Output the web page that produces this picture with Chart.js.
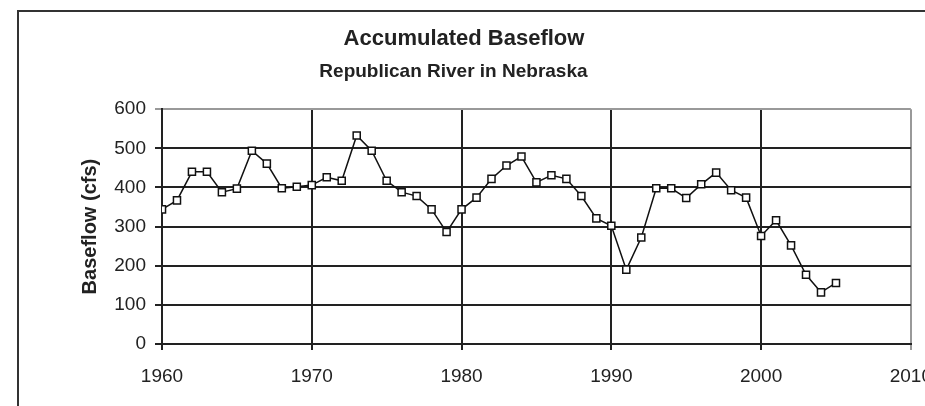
<!DOCTYPE html>
<html>
<head>
<meta charset="utf-8">
<script src="https://cdn.jsdelivr.net/npm/chart.js@4/dist/chart.umd.min.js"></script>
<style>
  html, body { margin: 0; padding: 0; background: #fff; overflow: hidden; }
  body { width: 925px; height: 406px; position: relative; }
  #frame { position: absolute; left: 17px; top: 10px; width: 1000px; height: 1000px; border: 2px solid #333; }
  #wrap { position: absolute; left: 0; top: 0; width: 947px; height: 406px; }
</style>
</head>
<body>
<div id="frame"></div>
<div id="wrap"><canvas id="baseflowChart"></canvas></div>
<script>
// data
const years = [1960, 1961, 1962, 1963, 1964, 1965, 1966, 1967, 1968, 1969,
               1970, 1971, 1972, 1973, 1974, 1975, 1976, 1977, 1978, 1979,
               1980, 1981, 1982, 1983, 1984, 1985, 1986, 1987, 1988, 1989,
               1990, 1991, 1992, 1993, 1994, 1995, 1996, 1997, 1998, 1999,
               2000, 2001, 2002, 2003, 2004, 2005];
const baseflow = [344, 367, 440, 440, 388, 397, 494, 461, 398, 402,
                  406, 426, 417, 533, 494, 417, 388, 378, 344, 286,
                  344, 374, 422, 456, 479, 413, 431, 422, 378, 321,
                  302, 190, 272, 398, 398, 373, 408, 438, 393, 374,
                  276, 316, 252, 177, 132, 156];
const xTicks = [1960, 1970, 1980, 1990, 2000, 2010];
const yTicks = [0, 100, 200, 300, 400, 500, 600];

const fontFamily = "'Liberation Sans', Arial, sans-serif";
const ink = '#222';

document.addEventListener("DOMContentLoaded", function () {
    const ctx = document.getElementById('baseflowChart').getContext('2d');

    new Chart(ctx, {
        type: 'line',
        data: {
            datasets: [{
                label: 'Baseflow',
                data: years.map((yr, i) => ({ x: yr, y: baseflow[i] })),
                borderColor: '#111',
                borderWidth: 1.5,
                pointStyle: 'rect',
                pointRadius: 5,
                pointBackgroundColor: '#fff',
                pointBorderColor: '#111',
                pointBorderWidth: 1.5,
                tension: 0
            }]
        },
        options: {
            responsive: true,
            maintainAspectRatio: false,
            animation: false,
            // left padding kept small so the titles centre on the whole picture
            layout: { padding: { left: 13, right: 32, top: 0, bottom: 0 } },
            plugins: {
                legend: { display: false },
                tooltip: { enabled: false },
                title: {
                    display: true,
                    text: 'Accumulated Baseflow',
                    color: ink,
                    font: { family: fontFamily, size: 22, weight: 'bold' },
                    padding: { top: 26, bottom: 0 }
                },
                subtitle: {
                    display: true,
                    // trailing spaces nudge the centred subtitle a little left, as in the original
                    text: 'Republican River in Nebraska    ',
                    color: ink,
                    font: { family: fontFamily, size: 19, weight: 'bold' },
                    padding: { top: 8, bottom: 26 }
                }
            },
            scales: {
                x: {
                    type: 'linear',
                    min: xTicks[0],
                    max: xTicks[xTicks.length - 1],
                    afterBuildTicks: (scale) => { scale.ticks = xTicks.map(v => ({ value: v })); },
                    afterFit: (scale) => { scale.height = 62; },
                    ticks: {
                        color: ink,
                        font: { family: fontFamily, size: 19 },
                        padding: 15,
                        maxRotation: 0,
                        callback: (v) => String(v)
                    },
                    grid: {
                        color: (c) => (c.tick && c.tick.value === 2010) ? '#999' : '#222',
                        lineWidth: 2,
                        tickLength: 6
                    },
                    border: { color: '#222', width: 2 }
                },
                y: {
                    min: yTicks[0],
                    max: yTicks[yTicks.length - 1],
                    afterBuildTicks: (scale) => { scale.ticks = yTicks.map(v => ({ value: v })); },
                    afterFit: (scale) => { scale.width = 149; },
                    title: {
                        display: true,
                        text: 'Baseflow (cfs)',
                        color: ink,
                        font: { family: fontFamily, size: 20, weight: 'bold' },
                        padding: { top: 65, bottom: 0 }
                    },
                    ticks: {
                        color: ink,
                        font: { family: fontFamily, size: 19 },
                        padding: 9
                    },
                    grid: {
                        color: (c) => (c.tick && c.tick.value === 600) ? '#999' : '#222',
                        lineWidth: 2,
                        tickLength: 7
                    },
                    border: { color: '#222', width: 2 }
                }
            }
        }
    });
});
</script>
</body>
</html>
